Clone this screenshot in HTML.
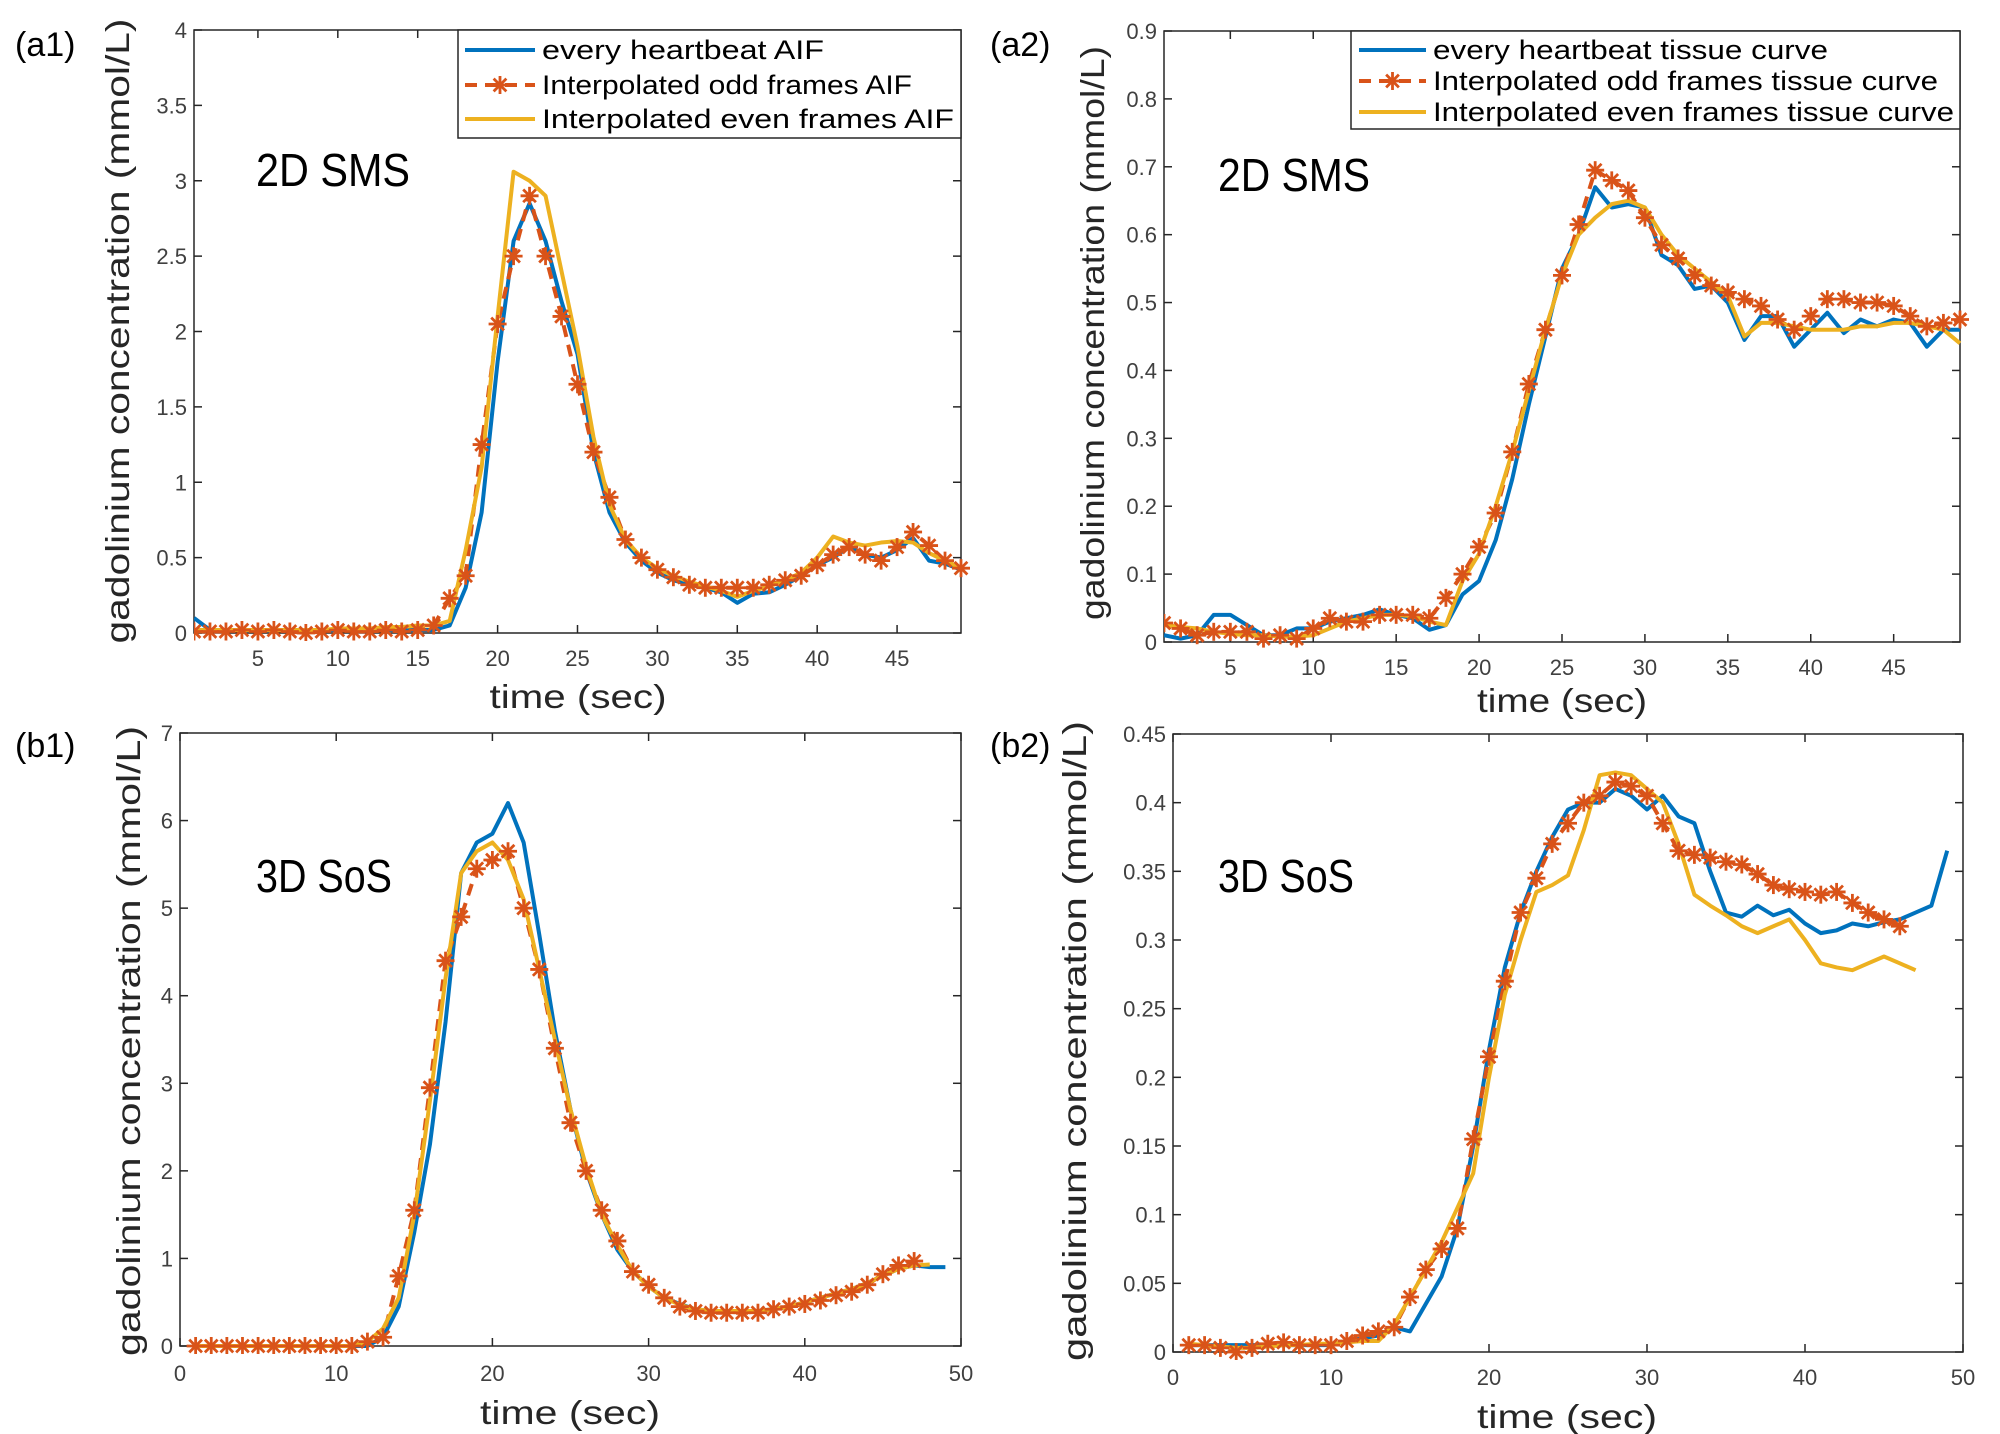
<!DOCTYPE html>
<html><head><meta charset="utf-8"><style>
html,body{margin:0;padding:0;background:#fff;}
svg{display:block;font-family:"Liberation Sans",sans-serif;}
</style></head><body>
<svg id="fig" width="2000" height="1434" viewBox="0 0 2000 1434"></svg>
<script>
const NS='http://www.w3.org/2000/svg';
const svg=document.getElementById('fig');
// ---- data ----
const a1Blue=[0.1,0.02,0.02,0.02,0.02,0.02,0.02,0.02,0.02,0.02,0.02,0.02,0.02,0.02,0.02,0.02,0.05,0.3,0.8,1.8,2.6,2.85,2.6,2.2,1.85,1.2,0.8,0.6,0.48,0.4,0.35,0.32,0.3,0.27,0.2,0.26,0.27,0.32,0.38,0.45,0.5,0.57,0.52,0.5,0.55,0.63,0.48,0.46,0.42];
const a1Odd=[0.01,0.01,0.01,0.02,0.01,0.02,0.01,0,0.01,0.02,0.01,0.01,0.02,0.01,0.02,0.05,0.23,0.38,1.25,2.05,2.5,2.9,2.5,2.1,1.65,1.2,0.9,0.62,0.5,0.42,0.37,0.32,0.3,0.3,0.3,0.3,0.32,0.35,0.38,0.45,0.52,0.57,0.52,0.48,0.57,0.67,0.58,0.48,0.43];
const a1Even=[0.02,0.02,0.02,0.02,0.02,0.02,0.02,0.02,0.02,0.03,0.03,0.03,0.04,0.04,0.05,0.05,0.08,0.55,1.1,2.1,3.06,3.0,2.9,2.4,1.9,1.3,0.85,0.62,0.5,0.43,0.38,0.34,0.31,0.28,0.24,0.28,0.31,0.35,0.4,0.5,0.64,0.6,0.58,0.6,0.61,0.6,0.53,0.48,0.43];
const a2Blue=[0.01,0.005,0.01,0.04,0.04,0.025,0.01,0.01,0.02,0.02,0.03,0.035,0.04,0.048,0.04,0.035,0.018,0.025,0.07,0.09,0.15,0.24,0.35,0.45,0.55,0.6,0.67,0.64,0.645,0.64,0.57,0.555,0.52,0.525,0.5,0.445,0.48,0.48,0.435,0.46,0.485,0.455,0.475,0.465,0.475,0.47,0.435,0.46,0.46];
const a2Odd=[0.028,0.02,0.01,0.015,0.015,0.015,0.005,0.01,0.005,0.02,0.035,0.03,0.03,0.04,0.04,0.04,0.035,0.065,0.1,0.14,0.19,0.28,0.38,0.46,0.54,0.615,0.695,0.68,0.665,0.625,0.585,0.565,0.54,0.525,0.515,0.505,0.495,0.475,0.46,0.48,0.505,0.505,0.5,0.5,0.495,0.48,0.465,0.47,0.475];
const a2Even=[0.025,0.022,0.02,0.015,0.012,0.01,0.01,0.008,0.008,0.01,0.02,0.03,0.035,0.04,0.04,0.038,0.03,0.025,0.09,0.13,0.2,0.28,0.37,0.46,0.54,0.6,0.625,0.645,0.65,0.64,0.6,0.57,0.55,0.53,0.51,0.45,0.47,0.47,0.465,0.46,0.46,0.46,0.465,0.465,0.47,0.47,0.465,0.46,0.44];
const b1Blue=[0,0,0,0,0,0,0,0,0,0,0,0,0.1,0.45,1.3,2.3,3.7,5.4,5.75,5.85,6.2,5.75,4.7,3.6,2.7,2.0,1.5,1.1,0.85,0.68,0.55,0.48,0.42,0.4,0.4,0.4,0.4,0.42,0.45,0.5,0.55,0.6,0.65,0.72,0.8,0.88,0.92,0.9,0.9];
const b1Odd=[0,0,0,0,0,0,0,0,0,0,0,0.05,0.1,0.8,1.55,2.95,4.4,4.9,5.45,5.55,5.65,5.0,4.3,3.4,2.55,2.0,1.55,1.2,0.85,0.7,0.55,0.45,0.4,0.38,0.38,0.38,0.38,0.42,0.45,0.48,0.52,0.58,0.62,0.7,0.82,0.92,0.97];
const b1Even=[0,0,0,0,0,0,0,0,0,0,0,0.05,0.2,0.55,1.5,2.8,4.2,5.4,5.65,5.75,5.55,5.1,4.3,3.5,2.7,2.05,1.5,1.15,0.85,0.68,0.55,0.47,0.42,0.4,0.4,0.4,0.4,0.42,0.45,0.5,0.55,0.6,0.65,0.72,0.8,0.88,0.92,0.93];
const b2Blue=[0.005,0.005,0.005,0.005,0.005,0.005,0.005,0.005,0.005,0.005,0.008,0.01,0.012,0.018,0.015,0.035,0.055,0.09,0.15,0.22,0.28,0.32,0.35,0.375,0.395,0.4,0.4,0.41,0.405,0.395,0.405,0.39,0.385,0.35,0.32,0.317,0.325,0.318,0.322,0.312,0.305,0.307,0.312,0.31,0.313,0.315,0.32,0.325,0.365];
const b2Odd=[0.005,0.005,0.003,0,0.003,0.006,0.007,0.005,0.005,0.005,0.008,0.012,0.015,0.018,0.04,0.06,0.075,0.09,0.155,0.215,0.27,0.32,0.345,0.37,0.385,0.4,0.405,0.415,0.412,0.405,0.385,0.365,0.362,0.36,0.357,0.355,0.348,0.34,0.337,0.335,0.333,0.335,0.327,0.32,0.315,0.31];
const b2Even=[0.006,0.005,0.004,0.003,0.003,0.004,0.005,0.005,0.006,0.006,0.007,0.008,0.008,0.02,0.04,0.06,0.08,0.105,0.13,0.2,0.26,0.3,0.335,0.34,0.347,0.38,0.42,0.422,0.42,0.41,0.4,0.37,0.333,0.325,0.318,0.31,0.305,0.31,0.315,0.3,0.283,0.28,0.278,0.283,0.288,0.283,0.278];
const a1XTicks=[5,10,15,20,25,30,35,40,45];
const a1YTicks=[0,0.5,1,1.5,2,2.5,3,3.5,4];
const a2XTicks=[5,10,15,20,25,30,35,40,45];
const a2YTicks=[0,0.1,0.2,0.3,0.4,0.5,0.6,0.7,0.8,0.9];
const bXTicks=[0,10,20,30,40,50];
const b1YTicks=[0,1,2,3,4,5,6,7];
const b2YTicks=[0,0.05,0.1,0.15,0.2,0.25,0.3,0.35,0.4,0.45];
const a1Legend=['every heartbeat AIF','Interpolated odd frames AIF','Interpolated even frames AIF'];
const a2Legend=['every heartbeat tissue curve','Interpolated odd frames tissue curve','Interpolated even frames tissue curve'];

const BLUE='#0072BD',ORANGE='#D95319',YELLOW='#EDB120';
function el(tag,attrs,parent){const e=document.createElementNS(NS,tag);for(const k in attrs)e.setAttribute(k,attrs[k]);(parent||svg).appendChild(e);return e;}
function txt(s,attrs,parent){const e=el('text',attrs,parent);e.textContent=s;return e;}
function star(g,x,y,r){
  for(const a of [0,45,90,135]){const t=a*Math.PI/180;
    el('line',{x1:x-r*Math.cos(t),y1:y-r*Math.sin(t),x2:x+r*Math.cos(t),y2:y+r*Math.sin(t),stroke:ORANGE,'stroke-width':2.8},g);}
}
function panel(p){
  const g=el('g',{});
  
  
  const sx=v=>p.L+(v-p.xmin)/(p.xmax-p.xmin)*(p.R-p.L);
  const sy=v=>p.B-(v-p.ymin)/(p.ymax-p.ymin)*(p.B-p.T);
  const box=el('rect',{x:p.L,y:p.T,width:p.R-p.L,height:p.B-p.T,fill:'#fff',stroke:'#262626','stroke-width':1.5},g);
  
  
  p.xt.forEach(v=>{const x=sx(v);
    el('line',{x1:x,y1:p.B,x2:x,y2:p.B-8,stroke:'#262626','stroke-width':1.5},g);
    el('line',{x1:x,y1:p.T,x2:x,y2:p.T+8,stroke:'#262626','stroke-width':1.5},g);
    const t=txt(String(v),{x:x,y:p.xtY,'font-size':22,fill:'#404040','text-anchor':'middle'},g);
    
    
  });
  p.yt.forEach(v=>{const y=sy(v);
    el('line',{x1:p.L,y1:y,x2:p.L+8,y2:y,stroke:'#262626','stroke-width':1.5},g);
    el('line',{x1:p.R,y1:y,x2:p.R-8,y2:y,stroke:'#262626','stroke-width':1.5},g);
    const t=txt(String(v),{x:p.L-7,y:y+8,'font-size':22,fill:'#404040','text-anchor':'end'},g);
    
    
  });
  const clip=el('clipPath',{id:'c'+p.name},g);
  el('rect',{x:p.L,y:p.T-6,width:p.R-p.L+12,height:p.B-p.T+14},clip);
  const sg=el('g',{'clip-path':'url(#c'+p.name+')'},g);
  const pts=(arr)=>arr.map((v,i)=>sx(p.t0+i)+','+sy(v)).join(' ');
  const lb=el('polyline',{points:pts(p.blue),fill:'none',stroke:BLUE,'stroke-width':4,'stroke-linejoin':'round'},sg);
  
  
  const lo=el('polyline',{points:pts(p.odd),fill:'none',stroke:ORANGE,'stroke-width':4,'stroke-dasharray':'12,8'},sg);
  
  
  const ly=el('polyline',{points:pts(p.even),fill:'none',stroke:YELLOW,'stroke-width':4,'stroke-linejoin':'round'},sg);
  
  
  const mg=el('g',{},sg);
  
  
  p.odd.forEach((v,i)=>star(mg,sx(p.t0+i),sy(v),9));
  const xt=txt('time (sec)',{x:p.xtitleX,y:p.xtitleY,'font-size':33,fill:'#262626','text-anchor':'middle',textLength:p.xtitleW,lengthAdjust:'spacingAndGlyphs'},g);
  
  
  const yt=txt('gadolinium concentration (mmol/L)',{x:0,y:0,'font-size':33,fill:'#262626','text-anchor':'middle',textLength:p.ytW,lengthAdjust:'spacingAndGlyphs',transform:`translate(${p.ytX},${p.ytY}) rotate(-90)`},g);
  
  
  const pl=txt(p.label,{x:p.labX,y:p.labY,'font-size':34,fill:'#000'},g);
  
  
  const an=txt(p.note,{x:p.noteX,y:p.noteY,'font-size':46,fill:'#000',textLength:p.noteW,lengthAdjust:'spacingAndGlyphs'},g);
  
  
  if(p.leg){const q=p.leg;
    const lg=el('g',{},g);
    
    
    el('rect',{x:q.x,y:q.y,width:q.w,height:q.h,fill:'#fff',stroke:'#262626','stroke-width':1.5},lg);
    const cols=[BLUE,ORANGE,YELLOW];
    q.names.forEach((n,i)=>{const yy=q.rows[i];
      const le=el('g',{},lg);
      
      
      el('line',{x1:q.lx1,y1:yy,x2:q.lx2,y2:yy,stroke:cols[i],'stroke-width':4,'stroke-dasharray':i==1?'12,8':'none'},le);
      if(i==1)star(le,(q.lx1+q.lx2)/2,yy,9);
      txt(n,{x:q.tx,y:yy+9,'font-size':27,fill:'#000',textLength:q.tw[i],lengthAdjust:'spacingAndGlyphs'},le);
    });
  }
}
panel({name:'panel-a1',L:194,R:961,T:30,B:633,xmin:1,xmax:49,ymin:0,ymax:4,xt:a1XTicks,yt:a1YTicks,xtY:666,t0:1,
  blue:a1Blue,odd:a1Odd,even:a1Even,xtitleX:578,xtitleY:708,xtitleW:177,ytX:129,ytY:331,ytW:625,
  label:'(a1)',labX:15,labY:56,note:'2D SMS',noteX:256,noteY:186,noteW:154,
  leg:{x:458,y:30,w:503,h:108,rows:[50,85,119],lx1:465,lx2:535,tx:542,names:a1Legend,tw:[282,370,412]}});
panel({name:'panel-a2',L:1164,R:1960,T:31,B:642,xmin:1,xmax:49,ymin:0,ymax:0.9,xt:a2XTicks,yt:a2YTicks,xtY:675,t0:1,
  blue:a2Blue,odd:a2Odd,even:a2Even,xtitleX:1562,xtitleY:712,xtitleW:170,ytX:1104,ytY:333,ytW:574,
  label:'(a2)',labX:990,labY:56,note:'2D SMS',noteX:1218,noteY:191,noteW:152,
  leg:{x:1351,y:31,w:609,h:98,rows:[50,81,112],lx1:1359,lx2:1426,tx:1433,names:a2Legend,tw:[395,505,521]}});
panel({name:'panel-b1',L:180,R:961,T:733,B:1346,xmin:0,xmax:50,ymin:0,ymax:7,xt:bXTicks,yt:b1YTicks,xtY:1381,t0:1,
  blue:b1Blue,odd:b1Odd,even:b1Even,xtitleX:570,xtitleY:1424,xtitleW:180,ytX:140,ytY:1041,ytW:630,
  label:'(b1)',labX:15,labY:757,note:'3D SoS',noteX:256,noteY:892,noteW:136});
panel({name:'panel-b2',L:1173,R:1963,T:734,B:1352,xmin:0,xmax:50,ymin:0,ymax:0.45,xt:bXTicks,yt:b2YTicks,xtY:1385,t0:1,
  blue:b2Blue,odd:b2Odd,even:b2Even,xtitleX:1567,xtitleY:1428,xtitleW:180,ytX:1086,ytY:1041,ytW:640,
  label:'(b2)',labX:990,labY:757,note:'3D SoS',noteX:1218,noteY:892,noteW:136});
</script>
</body></html>
